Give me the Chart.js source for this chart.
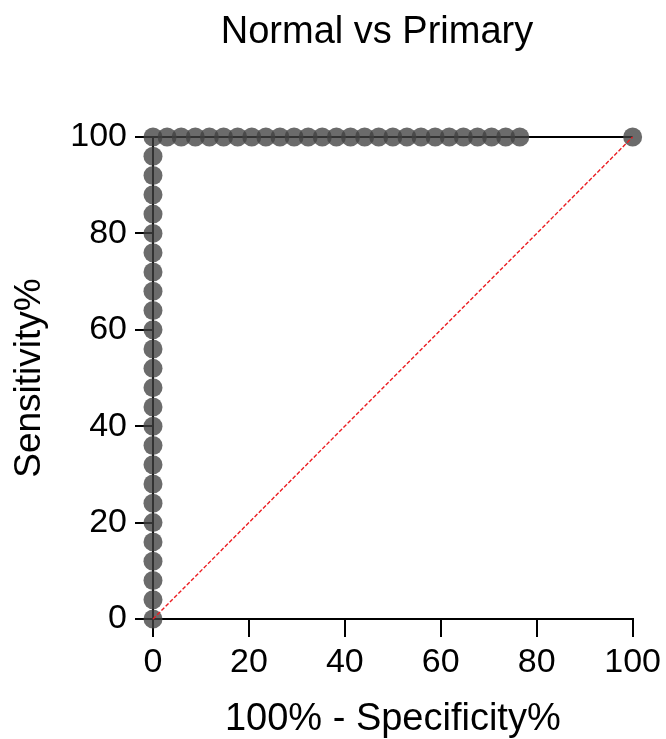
<!DOCTYPE html>
<html>
<head>
<meta charset="utf-8">
<title>Normal vs Primary</title>
<script src="https://cdn.jsdelivr.net/npm/chart.js@4/dist/chart.umd.min.js"></script>
<style>
  body { margin: 0; background: #fff; }
  canvas { display: block; }
</style>
</head>
<body>
<canvas id="rocChart" width="666" height="739"></canvas>
<script>
// ROC curve points (100% - Specificity%, Sensitivity%)
const specX = [
    0, 0, 0, 0, 0, 0, 0, 0, 0, 0, 0, 0, 0,
    0, 0, 0, 0, 0, 0, 0, 0, 0, 0, 0, 0, 0,
    2.94, 5.88, 8.82, 11.76, 14.71, 17.65, 20.59, 23.53, 26.47,
    29.41, 32.35, 35.29, 38.24, 41.18, 44.12, 47.06, 50, 52.94,
    55.88, 58.82, 61.76, 64.71, 67.65, 70.59, 73.53, 76.47,
    100
];
const sensY = [
    0, 4, 8, 12, 16, 20, 24, 28, 32, 36, 40, 44, 48,
    52, 56, 60, 64, 68, 72, 76, 80, 84, 88, 92, 96, 100,
    100, 100, 100, 100, 100, 100, 100, 100, 100,
    100, 100, 100, 100, 100, 100, 100, 100, 100,
    100, 100, 100, 100, 100, 100, 100, 100,
    100
];
// reference line
const diagX = [0, 100];
const diagY = [0, 100];

const xTicks = [0, 20, 40, 60, 80, 100];
const yTicks = [0, 20, 40, 60, 80, 100];

const FONT = "'Liberation Sans', Arial, Helvetica, sans-serif";

const rocData = specX.map((x, i) => ({ x: x, y: sensY[i] }));
const diagData = diagX.map((x, i) => ({ x: x, y: diagY[i] }));

// the title sits a bit left of the plot centre, like the original
const titleShift = {
    id: 'titleShift',
    afterLayout(chart) {
        if (chart.titleBlock) {
            chart.titleBlock.left = 121;
            chart.titleBlock.right = 633;
        }
    }
};

const ctx = document.getElementById('rocChart');

new Chart(ctx.getContext('2d'), {
    type: 'scatter',
    data: {
        datasets: [
            {
                label: 'Identity',
                data: diagData,
                showLine: true,
                borderColor: 'rgb(235, 30, 35)',
                borderWidth: 1.4,
                borderDash: [4, 2],
                pointRadius: 0,
                fill: false,
                clip: false
            },
            {
                label: 'ROC',
                data: rocData,
                showLine: true,
                borderColor: '#000',
                borderWidth: 2,
                pointRadius: 9.5,
                pointBorderWidth: 0,
                pointBackgroundColor: 'rgba(65, 65, 65, 0.78)',
                fill: false,
                clip: false
            }
        ]
    },
    plugins: [titleShift],
    options: {
        responsive: false,
        animation: false,
        devicePixelRatio: 1,
        layout: {
            padding: { left: 0, right: 33, top: 0, bottom: 0 }
        },
        plugins: {
            legend: { display: false },
            tooltip: { enabled: false },
            title: {
                display: true,
                text: 'Normal vs Primary',
                color: '#000',
                font: { family: FONT, size: 38, weight: 'normal', lineHeight: 1.2 },
                padding: { top: 10, bottom: 81.4 }
            }
        },
        scales: {
            x: {
                type: 'linear',
                min: 0,
                max: 100,
                afterBuildTicks: s => { s.ticks = xTicks.map(v => ({ value: v })); },
                afterFit: s => { s.height = 120; },
                ticks: {
                    color: '#000',
                    padding: 5,
                    font: { family: FONT, size: 34 }
                },
                grid: {
                    drawOnChartArea: false,
                    drawTicks: true,
                    tickLength: 18,
                    color: '#000',
                    lineWidth: 2
                },
                border: { display: true, color: '#000', width: 2 },
                title: {
                    display: true,
                    text: '100% - Specificity%',
                    color: '#000',
                    font: { family: FONT, size: 38, lineHeight: 1 },
                    padding: { top: 0, bottom: 0 }
                }
            },
            y: {
                type: 'linear',
                min: 0,
                max: 100,
                afterBuildTicks: s => { s.ticks = yTicks.map(v => ({ value: v })); },
                afterFit: s => { s.width = 153; },
                ticks: {
                    color: '#000',
                    padding: 8,
                    font: { family: FONT, size: 34 }
                },
                grid: {
                    drawOnChartArea: false,
                    drawTicks: true,
                    tickLength: 18,
                    color: '#000',
                    lineWidth: 2
                },
                border: { display: true, color: '#000', width: 2 },
                title: {
                    display: true,
                    text: 'Sensitivity%',
                    color: '#000',
                    font: { family: FONT, size: 37, lineHeight: 1.2 },
                    padding: { top: 8, bottom: 0 }
                }
            }
        }
    }
});
</script>
</body>
</html>
